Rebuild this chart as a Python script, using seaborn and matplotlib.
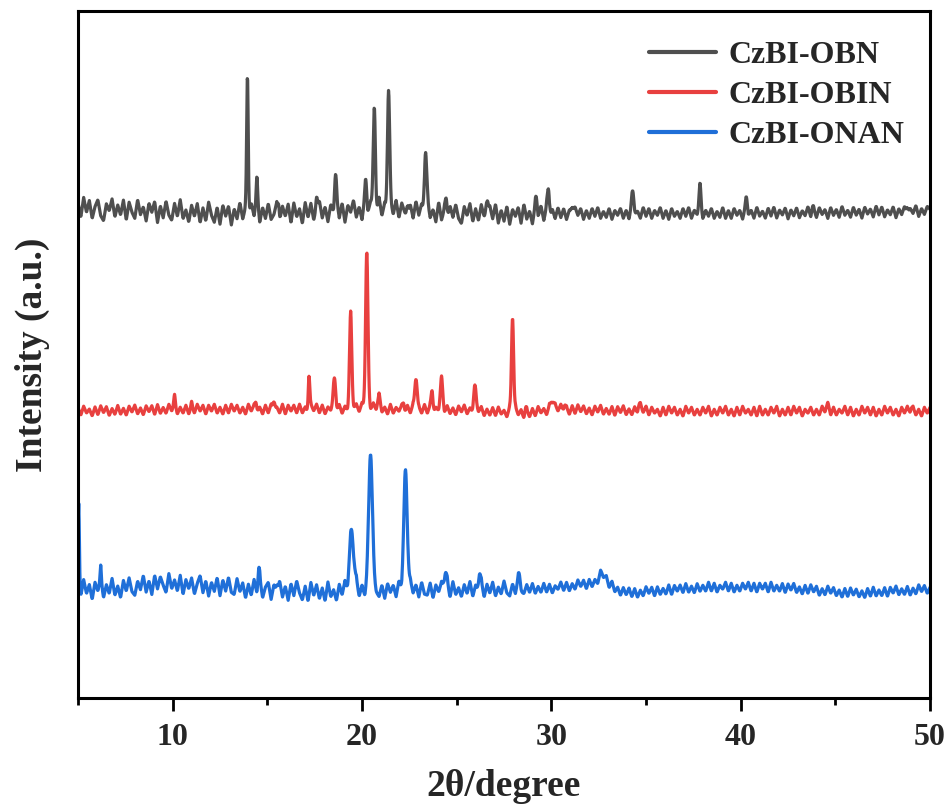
import numpy as np
import pandas as pd
import matplotlib
matplotlib.use("Agg")
import matplotlib.pyplot as plt
from matplotlib.ticker import MultipleLocator
import seaborn as sns

# ---------------------------------------------------------------------------
# Powder XRD patterns (stacked, arbitrary intensity units)
# ---------------------------------------------------------------------------
samples = ["CzBI-OBN", "CzBI-OBIN", "CzBI-ONAN"]
colors = ["#4f4f4f", "#e8403f", "#1f6fd8"]

x_ticks = [10, 20, 30, 40, 50]

# Bragg reflections: 2θ position, height above background, FWHM (deg)
obn_pos = [13.95, 14.45, 15.6, 17.6, 18.6, 20.2, 20.65, 21.4, 22.4, 23.35,
           24.45, 26.6, 29.2, 29.85, 31.1, 34.3, 37.85, 40.3, 43.8, 48.8]
obn_height = [143, 26, 10, 12, 31, 26, 108, 125, 15, 63,
              22, 22, 14, 30, 10, 20, 26, 14, 6, 8]
obn_fwhm = [0.10, 0.10, 0.10, 0.10, 0.12, 0.12, 0.14, 0.14, 0.12, 0.15,
            0.15, 0.15, 0.12, 0.15, 0.15, 0.15, 0.12, 0.12, 0.12, 0.12]

obin_pos = [10.1, 11.0, 14.4, 15.35, 17.2, 18.55, 19.4, 20.25, 20.9, 22.2,
            22.85, 23.7, 24.2, 25.95, 27.95, 28.65, 30.05, 30.7, 34.65, 44.6, 49.0]
obin_height = [11, 6, 8, 9, 35, 29, 93, 158, 12, 8,
               32, 21, 29, 23, 99, 7, 10, 6, 8, 5, 4]
obin_fwhm = [0.10, 0.10, 0.12, 0.12, 0.10, 0.15, 0.14, 0.15, 0.15, 0.12,
             0.15, 0.12, 0.15, 0.15, 0.13, 0.12, 0.20, 0.15, 0.20, 0.20, 0.15]

onan_pos = [5.04, 6.2, 14.55, 15.5, 19.45, 20.45, 22.3, 24.4, 26.2, 28.3, 32.7]
onan_height = [82, 15, 16, 8, 60, 141, 121, 20, 16, 12, 8]
onan_fwhm = [0.08, 0.08, 0.10, 0.10, 0.28, 0.22, 0.22, 0.20, 0.15, 0.15, 0.50]

# Background level (including vertical stacking offset)
obn_bg_pos = [5, 8, 12, 16, 19, 22, 24, 28, 32, 40, 50]
obn_bg_level = [490, 489, 485, 486, 488, 488, 485, 484, 485, 485, 487]

obin_bg_pos = [5, 10, 15, 20, 26, 28.5, 30, 35, 50]
obin_bg_level = [287, 289, 289, 289, 288, 284, 289, 287, 287]

onan_bg_pos = [5, 7, 9.5, 13, 18, 27, 30, 32.6, 34, 38, 42, 46, 50]
onan_bg_level = [108, 110, 115, 111, 106, 109, 110, 116, 105, 111, 111, 105, 109]

# Counting-noise ripple, sampled every 0.15° from 5° to 50°
ripple_start, ripple_step = 5.0, 0.15
obn_ripple = [
    6, -9, 11, -4, 8, -10, 2, 9, -7, -12, 5, -2, 10, -8, 4, -6, 9, -11, 7, -3,
    -9, 10, -5, 3, -11, 7, -2, 9, -12, 5, -7, 10, -4, -9, 8, -5, 12, -7, 2, -10,
    7, -4, 9, -10, 5, -8, 11, -2, -9, 6, -11, 8, -3, 7, -12, 4, -6, 10, -7, 2,
    -9, 8, -4, 11, -10, 5, -6, 9, -7, -2, 10, -9, 6, -4, 8, -11, 9, -5, 3, -12,
    9, -6, 8, -9, 2, 10, -7, 4, -11, 6, -3, 9, -8, 7, -12, 5, -2, 10, -7, 3,
    -10, 9, -5, 7, -3, -9, 11, -7, 5, -10, 4, -6, 9, -8, 7, -2, -11, 6, -7, 10,
    -4, 7, -10, 9, -6, 3, -9, 11, -7, 2, -12, 7, -4, 9, -5, -10, 7, -2, 10, -8,
    5, -7, 9, -4, -10, 7, -5, 10, -9, 4, -7, 8, -10, 5, -2, 7, -9, 10, -5, 3,
    -10, 7, -4, 8, -7, 5, -11, 4, -5, 6, -4, 5, -6, 3, -5, 6, -2, 5, -6, 3,
    -5, 5, -3, 6, -5, 2, -4, 5, -6, 3, -2, 5, -5, 3, -6, 5, -3, 2, -5, 6,
    -3, 5, -5, 3, -2, 6, -5, 3, -6, 5, -3, 2, -5, 5, -3, 6, -5, 3, -2, 5,
    -6, 3, -3, 5, -5, 2, -4, 6, -5, 3, -5, 5, -2, 3, -6, 5, -3, 3, -5, 6,
    -3, 2, -5, 5, -3, 6, -5, 3, -2, 5, -6, 3, -3, 5, -5, 2, -3, 6, -5, 3,
    -5, 5, -2, 3, -6, 5, -3, 3, -5, 6, -3, 2, -5, 5, -3, 3, -6, 5, -2, 3,
    -5, 6, -3, 5, -5, 2, -3, 5, -6, 3, -3, 5, -5, 3, -2, 6, -5, 3, -3, 5,
    2,
]
obin_ripple = [
    4, -4, 5, -2, 2, -5, 4, -4, 5, -2, 4, -5, 2, -4, 5, -4, 2, -5, 4, -2,
    5, -4, 2, -5, 4, -2, 4, -5, 5, -4, 2, -4, 5, -2, 4, -5, 2, -4, 4, -5,
    2, -4, 5, -2, 4, -5, 4, -2, 5, -4, 2, -5, 4, -4, 5, -2, 4, -4, 2, -5,
    5, -2, 4, -4, 2, -5, 4, -4, 5, -2, 2, -4, 5, -5, 4, -2, 4, -4, 5, -4,
    2, -5, 4, -2, 5, -4, 4, -5, 2, -2, 5, -4, 4, -5, 2, -4, 5, -2, 4, -4,
    4, -5, 2, -4, 5, -2, 4, -4, 2, -5, 5, -4, 2, -2, 4, -5, 4, -4, 5, -2,
    2, -4, 5, -4, 4, -5, 2, -2, 5, -4, 4, -4, 2, -5, 4, -2, 5, -4, 2, -4,
    5, -2, 4, -5, 2, -4, 4, -4, 5, -2, 2, -5, 4, -4, 5, -2, 4, -5, 2, -4,
    4, -4, 5, -2, 2, -5, 4, -4, 4, -2, 5, -4, 2, -5, 4, -4, 5, -2, 4, -4,
    2, -5, 4, -2, 5, -4, 2, -4, 4, -5, 4, -2, 5, -4, 2, -4, 4, -5, 2, -2,
    5, -4, 4, -2, 2, -5, 4, -4, 5, -2, 4, -4, 2, -5, 5, -2, 4, -4, 2, -4,
    4, -2, 5, -5, 2, -4, 4, -2, 5, -4, 2, -5, 4, -4, 5, -2, 2, -4, 4, -5,
    5, -4, 2, -4, 4, -2, 5, -5, 2, -4, 4, -4, 5, -2, 4, -5, 2, -2, 4, -4,
    2, -4, 5, -2, 4, -5, 4, -4, 2, -2, 5, -4, 4, -5, 2, -4, 5, -2, 4, -4,
    4, -5, 2, -4, 5, -2, 4, -4, 2, -5, 4, -2, 5, -4, 4, -4, 2, -5, 4, -2,
    4,
]
onan_ripple = [
    9, -7, 10, -4, 5, -10, 7, -2, 9, -9, 4, -5, 10, -7, 2, -10, 7, -4, 9, -5,
    -9, 5, -4, 10, -7, 4, -10, 9, -5, 7, -2, -9, 10, -5, 4, -7, 9, -10, 5, -4,
    7, -9, 2, 10, -7, 5, -10, 4, -5, 9, -9, 7, -4, 10, -5, -7, 9, -4, 5, -10,
    4, -7, 9, -5, 10, -9, 2, 7, -10, 5, -4, 9, -7, 4, -10, 7, -5, 10, -2, -9,
    5, -10, 9, -4, 7, -7, 4, -9, 10, -5, 2, -9, 7, -4, 9, -8, 5, -5, 8, -7,
    4, -8, 7, -5, 8, -4, -7, 5, -8, 7, -2, 5, -7, 8, -5, 4, -8, 7, -4, 5,
    -7, 8, -4, -5, 7, -8, 5, -2, 7, -7, 4, -8, 8, -5, 2, -7, 5, -4, 8, -7,
    4, -5, 7, -8, 5, -4, 7, -7, 2, -5, 8, -4, -7, 5, -5, 7, -4, -5, 4, -4,
    5, -5, 2, -4, 5, -4, 4, -5, 2, -2, 5, -4, 4, -5, 2, -4, 5, -2, 4, -5,
    4, -4, 2, -5, 5, -2, 4, -4, 5, -4, 2, -5, 4, -2, 5, -4, 4, -5, 2, -4,
    5, -2, 4, -5, 4, -4, 2, -4, 5, -5, 4, -2, 4, -4, 5, -4, 2, -5, 4, -4,
    2, -4, 5, -4, 4, -5, 2, -2, 5, -4, 4, -5, 2, -4, 4, -2, 5, -4, 4, -5,
    4, -2, 4, -5, 5, -4, 2, -4, 4, -5, 4, -2, 5, -4, 2, -5, 4, -4, 5, -2,
    4, -5, 2, -4, 5, -2, 4, -4, 2, -5, 4, -4, 5, -2, 4, -4, 2, -5, 4, -4,
    5, -4, 2, -4, 4, -5, 4, -2, 5, -4, 2, -4, 4, -5, 2, -4, 5, -2, 4, -4,
    2,
]


def build_pattern(grid, bg_pos, bg_level, ripple, pos, height, fwhm):
    """Background + ripple + pseudo-Voigt reflections on the 2θ grid."""
    ripple_x = ripple_start + ripple_step * np.arange(len(ripple))
    y = np.interp(grid, bg_pos, bg_level) + np.interp(grid, ripple_x, ripple)
    for p, h, w in zip(pos, height, fwhm):
        sigma = w / 2.3548
        gauss = np.exp(-0.5 * ((grid - p) / sigma) ** 2)
        lorentz = 1.0 / (1.0 + ((grid - p) / (w / 2)) ** 2)
        y = y + h * (0.8 * gauss + 0.2 * lorentz)
    return y


two_theta = np.round(np.arange(5.0, 50.0001, 0.02), 3)

traces = {
    "CzBI-OBN": build_pattern(two_theta, obn_bg_pos, obn_bg_level, obn_ripple,
                              obn_pos, obn_height, obn_fwhm),
    "CzBI-OBIN": build_pattern(two_theta, obin_bg_pos, obin_bg_level, obin_ripple,
                               obin_pos, obin_height, obin_fwhm),
    "CzBI-ONAN": build_pattern(two_theta, onan_bg_pos, onan_bg_level, onan_ripple,
                               onan_pos, onan_height, onan_fwhm),
}

df = pd.concat(
    [pd.DataFrame({"two_theta": two_theta, "intensity": y, "sample": name})
     for name, y in traces.items()],
    ignore_index=True,
)

# ---------------------------------------------------------------------------
# Figure
# ---------------------------------------------------------------------------
sns.set_theme(style="white")
plt.rcParams["font.family"] = ["Liberation Serif", "DejaVu Serif"]
plt.rcParams["font.weight"] = "bold"

fig = plt.figure(figsize=(9.51, 8.11), dpi=100)
ax = fig.add_axes([0.082, 0.139, 0.896, 0.847])

sns.lineplot(
    data=df, x="two_theta", y="intensity", hue="sample",
    hue_order=samples, palette=dict(zip(samples, colors)),
    estimator=None, sort=False, linewidth=2.3, ax=ax,
)

ax.set_xlim(5, 50)
ax.set_ylim(0, 687)
ax.set_yticks([])
ax.set_xticks(x_ticks)
ax.set_xticklabels([str(t) for t in x_ticks])
ax.xaxis.set_minor_locator(MultipleLocator(5))

for side in ["left", "right", "top", "bottom"]:
    ax.spines[side].set_visible(True)
    ax.spines[side].set_color("black")
    ax.spines[side].set_linewidth(2.2)

ax.tick_params(axis="x", which="major", direction="out", length=9, width=2,
               color="black", labelsize=23, pad=9, bottom=True)
ax.tick_params(axis="x", which="minor", direction="out", length=5, width=2,
               color="black", bottom=True)
for lbl in ax.get_xticklabels():
    lbl.set_fontweight("bold")

ax.set_xlabel("2θ/degree", fontsize=27, fontweight="bold", labelpad=12)
ax.set_ylabel("Intensity (a.u.)", fontsize=27, fontweight="bold", labelpad=20)

leg = ax.legend(
    loc="upper right", bbox_to_anchor=(0.985, 0.976), frameon=False,
    handlelength=2.1, handletextpad=0.4, labelspacing=0.33, borderaxespad=0,
    prop={"weight": "bold", "size": 23},
)
for line in leg.get_lines():
    line.set_linewidth(3)

fig.savefig("out.png", dpi=100, facecolor="white")
